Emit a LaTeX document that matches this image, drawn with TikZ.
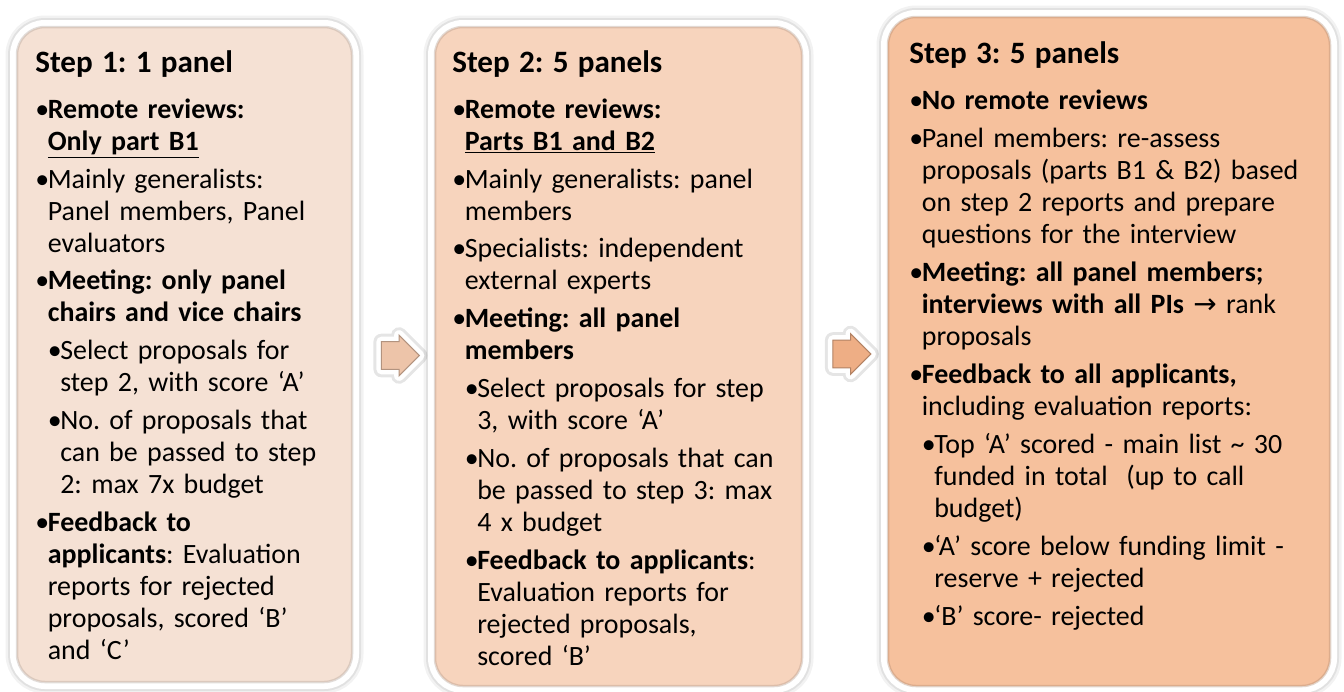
\documentclass[tikz,border=0pt]{standalone}
\usepackage{fontspec}
\setmainfont{Carlito}
\newfontfamily\arrowfont{DejaVu Sans}
\usetikzlibrary{shapes.arrows,fit,calc}

\definecolor{peachA}{HTML}{F5E1D4}
\definecolor{peachB}{HTML}{F7D4BD}
\definecolor{peachC}{HTML}{F6C19D}
\definecolor{arrowA}{HTML}{EDC4A9}
\definecolor{arrowB}{HTML}{EEAE85}

\newcommand{\bul}{\makebox[7.1pt][l]{•}}
\newcommand{\ind}{\hspace*{7.1pt}}
\newcommand{\head}[1]{{\fontsize{17.7}{20}\selectfont\bfseries #1}}

\tikzset{
	stepbox/.style={rounded corners=0.56cm, inner sep=0pt, fill=#1,
		preaction={draw=black, opacity=0.05, line width=0.46cm},
		preaction={draw=black, opacity=0.07, line width=0.36cm},
		preaction={draw=white, line width=0.28cm},
		postaction={draw=#1!70!black, opacity=0.35, line width=0.05cm}},
	steptext/.style={anchor=base west, inner sep=0pt, text width=9.5cm, align=left,
		font=\fontsize{15.9}{18.21}\selectfont\frenchspacing},
	chevron/.style={single arrow, inner xsep=0pt, inner ysep=0.27cm, single arrow tip angle=90,
		single arrow head extend=0.13cm, minimum height=0.76cm,
		fill=#1,
		preaction={draw=black, opacity=0.1, line width=0.32cm, line join=round},
		preaction={draw=white, line width=0.2cm, line join=round},
		postaction={draw=#1!75!black, line width=0.6pt}}
}

\begin{document}
\begin{tikzpicture}[x=0.02cm,y=-0.02cm]
	\useasboundingbox (0,0) rectangle (1344,691);
	% boxes
	\node[stepbox=peachA, fit={(17,27) (352,682)}] (s1) {};
	\node[stepbox=peachB, fit={(435,27) (802,686)}] (s2) {};
	\node[stepbox=peachC, fit={(888,17) (1330,686)}] (s3) {};
	% arrows between boxes
	\node[chevron=arrowA] (a1) at ($(s1.east)!0.5!(s2.west)$) {};
	\node[chevron=arrowB] (a2) at ($(s2.east)!0.5!(s3.west)$) {};
	% step 1
	\node[steptext] (t1) at (35,72) {\head{Step 1: 1 panel}\\[8pt]
		\bul\textbf{Remote reviews:}\\
		\ind\textbf{\underline{Only part B1}}\\[3.4pt]
		\bul Mainly generalists:\\
		\ind Panel members, Panel\\
		\ind evaluators\\[3.4pt]
		\bul\textbf{Meeting: only panel}\\
		\ind\textbf{chairs and vice chairs}\\[3.4pt]
		\ind\bul Select proposals for\\
		\ind\ind step 2, with score ‘A’\\[3.4pt]
		\ind\bul No. of proposals that\\
		\ind\ind can be passed to step\\
		\ind\ind 2: max 7x budget\\[3.4pt]
		\bul\textbf{Feedback to}\\
		\ind\textbf{applicants}: Evaluation\\
		\ind reports for rejected\\
		\ind proposals, scored ‘B’\\
		\ind and ‘C’};
	% step 2
	\node[steptext] (t2) at (452,72) {\head{Step 2: 5 panels}\\[8pt]
		\bul\textbf{Remote reviews:}\\
		\ind\textbf{\underline{Parts B1 and B2}}\\[3.4pt]
		\bul Mainly generalists: panel\\
		\ind members\\[3.4pt]
		\bul Specialists: independent\\
		\ind external experts\\[3.4pt]
		\bul\textbf{Meeting: all panel}\\
		\ind\textbf{members}\\[3.4pt]
		\ind\bul Select proposals for step\\
		\ind\ind 3, with score ‘A’\\[3.4pt]
		\ind\bul No. of proposals that can\\
		\ind\ind be passed to step 3: max\\
		\ind\ind 4 x budget\\[3.4pt]
		\ind\bul\textbf{Feedback to applicants}:\\
		\ind\ind Evaluation reports for\\
		\ind\ind rejected proposals,\\
		\ind\ind scored ‘B’};
	% step 3
	\node[steptext] (t3) at (909,63) {\head{Step 3: 5 panels}\\[8.5pt]
		\bul\textbf{No remote reviews}\\[3.4pt]
		\bul Panel members: re-assess\\
		\ind proposals (parts B1 \& B2) based\\
		\ind on step 2 reports and prepare\\
		\ind questions for the interview\\[3.4pt]
		\bul\textbf{Meeting: all panel members;}\\
		\ind\textbf{interviews with all PIs} {\arrowfont →} rank\\
		\ind proposals\\[3.4pt]
		\bul\textbf{Feedback to all applicants,}\\
		\ind including evaluation reports:\\[3.4pt]
		\ind\bul Top ‘A’ scored - main list \textasciitilde{} 30\\
		\ind\ind funded in total\ \ (up to call\\
		\ind\ind budget)\\[3.4pt]
		\ind\bul ‘A’ score below funding limit -\\
		\ind\ind reserve + rejected\\[3.4pt]
		\ind\bul ‘B’ score- rejected};
\end{tikzpicture}
\end{document}
